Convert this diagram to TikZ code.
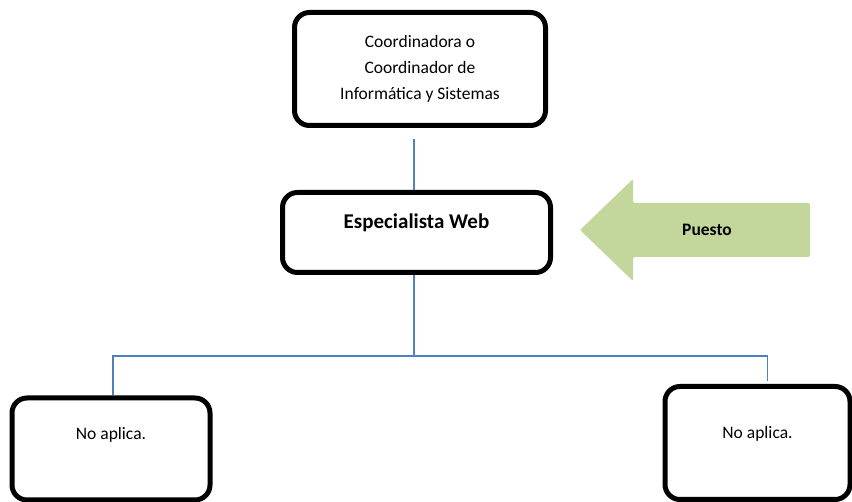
\documentclass[tikz,border=0pt]{standalone}
\usepackage{fontspec}
\setmainfont{Carlito}
\usepackage{tikz}
\usetikzlibrary{positioning}
\usepackage{xcolor}
\definecolor{linkblue}{HTML}{4F81BD}
\definecolor{puestogreen}{HTML}{C3D69B}

\begin{document}
\begin{tikzpicture}[x=1pt, y=-1pt, every node/.style={font=\fontsize{17.5}{26}\selectfont}]
\tikzstyle{block}=[rectangle, draw, line width=5pt, rounded corners=15pt, align=center]
\tikzstyle{link}=[draw=linkblue, line width=1.5pt]
\useasboundingbox (0,0) rectangle (852,502);
\node[block, minimum width=251pt, minimum height=113pt] (coord) at (420,69) {Coordinadora o\\Coordinador de\\Informática y Sistemas};
\node[block, minimum width=268pt, minimum height=80pt, text height=14pt, text depth=21pt, font=\fontsize{21}{26}\selectfont\bfseries] (web) at (416.5,232.5) {Especialista Web};
\node[block, minimum width=198pt, minimum height=102pt, text height=11.5pt, text depth=29.5pt] (noleft) at (111,449) {No aplica.};
\node[block, minimum width=185pt, minimum height=113pt, text height=11.5pt, text depth=19.5pt] (noright) at (757.5,443) {No aplica.};
\coordinate (split) at (414,356);
\draw[link, shorten <=11pt] (coord.south -| split) -- (web.north -| split);
\draw[link] (web.south -| split) -- (split);
\draw[link] (split) -| ([xshift=2pt]noleft.north);
\draw[link, shorten >=3pt] (split) -| ([xshift=10pt]noright.north);
\fill[puestogreen, rounded corners=2pt] (580,230) -- (633,179) -- (633,203) -- (810,203) -- (810,257) -- (633,257) -- (633,281) -- cycle;
\node[font=\fontsize{17.5}{26}\selectfont\bfseries] (puesto) at (707,230) {Puesto};
\end{tikzpicture}
\end{document}
